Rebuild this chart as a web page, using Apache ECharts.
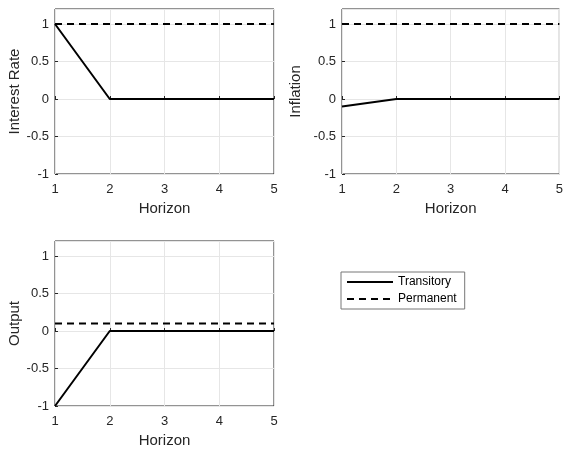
<!DOCTYPE html>
<html>
<head>
<meta charset="utf-8">
<script src="https://cdn.jsdelivr.net/npm/echarts@6/dist/echarts.min.js"></script>
<style>
html,body{margin:0;padding:0;background:#fff;}
#chart{width:566px;height:449px;}
</style>
</head>
<body>
<div id="chart"></div>
<script>
var horizon = [1, 2, 3, 4, 5];
var interestTransitory = [1, 0, 0, 0, 0];
var interestPermanent = [1, 1, 1, 1, 1];
var inflationTransitory = [-0.1, 0, 0, 0, 0];
var inflationPermanent = [1, 1, 1, 1, 1];
var outputTransitory = [-1, 0, 0, 0, 0];
var outputPermanent = [0.1, 0.1, 0.1, 0.1, 0.1];
var yLabels = ['Interest Rate', 'Inflation', 'Output'];
var xLabel = 'Horizon';
var seriesNames = ['Transitory', 'Permanent'];

function pairs(xs, ys) { return xs.map(function (x, i) { return [x, ys[i]]; }); }

var FONT = '"Liberation Sans", Arial, Helvetica, sans-serif';
var TXT = '#262626';

var grids = [
  {left: 55, top: 9, width: 219, height: 165},
  {left: 342, top: 9, width: 218, height: 165},
  {left: 55, top: 241, width: 219, height: 165}
].map(function (g) {
  return Object.assign({show: true, borderColor: '#262626', borderWidth: 1, backgroundColor: 'transparent'}, g);
});

var nameGaps = [33, 39, 33];

var xAxes = grids.map(function (g, i) {
  return {
    type: 'value', gridIndex: i, min: 1, max: 5, interval: 1,
    name: xLabel, nameLocation: 'middle', nameGap: 27,
    nameTextStyle: {fontFamily: FONT, fontSize: 15, color: TXT},
    axisLine: {show: false},
    axisTick: {show: true, inside: true, length: 3, lineStyle: {color: '#262626'}},
    axisLabel: {fontFamily: FONT, fontSize: 13, color: TXT, margin: 9},
    splitLine: {show: true, lineStyle: {color: '#e6e6e6', width: 1}}
  };
});

var yAxes = grids.map(function (g, i) {
  return {
    type: 'value', gridIndex: i, min: -1, max: 1.2, interval: 0.5,
    name: yLabels[i], nameLocation: 'middle', nameGap: nameGaps[i],
    nameTextStyle: {fontFamily: FONT, fontSize: 15, color: TXT},
    axisLine: {show: false},
    axisTick: {show: true, inside: true, length: 3, lineStyle: {color: '#262626'}},
    axisLabel: {fontFamily: FONT, fontSize: 13, color: TXT, margin: 6, showMaxLabel: false},
    splitLine: {show: true, lineStyle: {color: '#e6e6e6', width: 1}}
  };
});

var data = [
  [interestTransitory, interestPermanent],
  [inflationTransitory, inflationPermanent],
  [outputTransitory, outputPermanent]
];

var series = [];
data.forEach(function (d, i) {
  series.push({
    name: seriesNames[0], type: 'line', xAxisIndex: i, yAxisIndex: i,
    data: pairs(horizon, d[0]), symbol: 'none', showSymbol: false,
    lineStyle: {color: '#000', width: 2, type: 'solid'}, itemStyle: {color: '#000'},
    animation: false, z: 3
  });
  series.push({
    name: seriesNames[1], type: 'line', xAxisIndex: i, yAxisIndex: i,
    data: pairs(horizon, d[1]), symbol: 'none', showSymbol: false,
    lineStyle: {color: '#000', width: 2, type: [7, 5]}, itemStyle: {color: '#000'},
    animation: false, z: 3
  });
});

var chart = echarts.init(document.getElementById('chart'), null, {renderer: 'canvas'});
chart.setOption({
  backgroundColor: '#fff',
  animation: false,
  grid: grids,
  xAxis: xAxes,
  yAxis: yAxes,
  legend: {
    data: seriesNames,
    orient: 'vertical',
    left: 341, top: 272,
    padding: [4, 8, 4, 5],
    itemGap: 5,
    itemWidth: 46, itemHeight: 12,
    itemStyle: {opacity: 0},
    borderColor: '#777', borderWidth: 1,
    backgroundColor: '#fff',
    textStyle: {fontFamily: FONT, fontSize: 12, color: '#000', padding: [0, 0, 0, 0]},
    selectedMode: false
  },
  series: series
});
</script>
</body>
</html>
